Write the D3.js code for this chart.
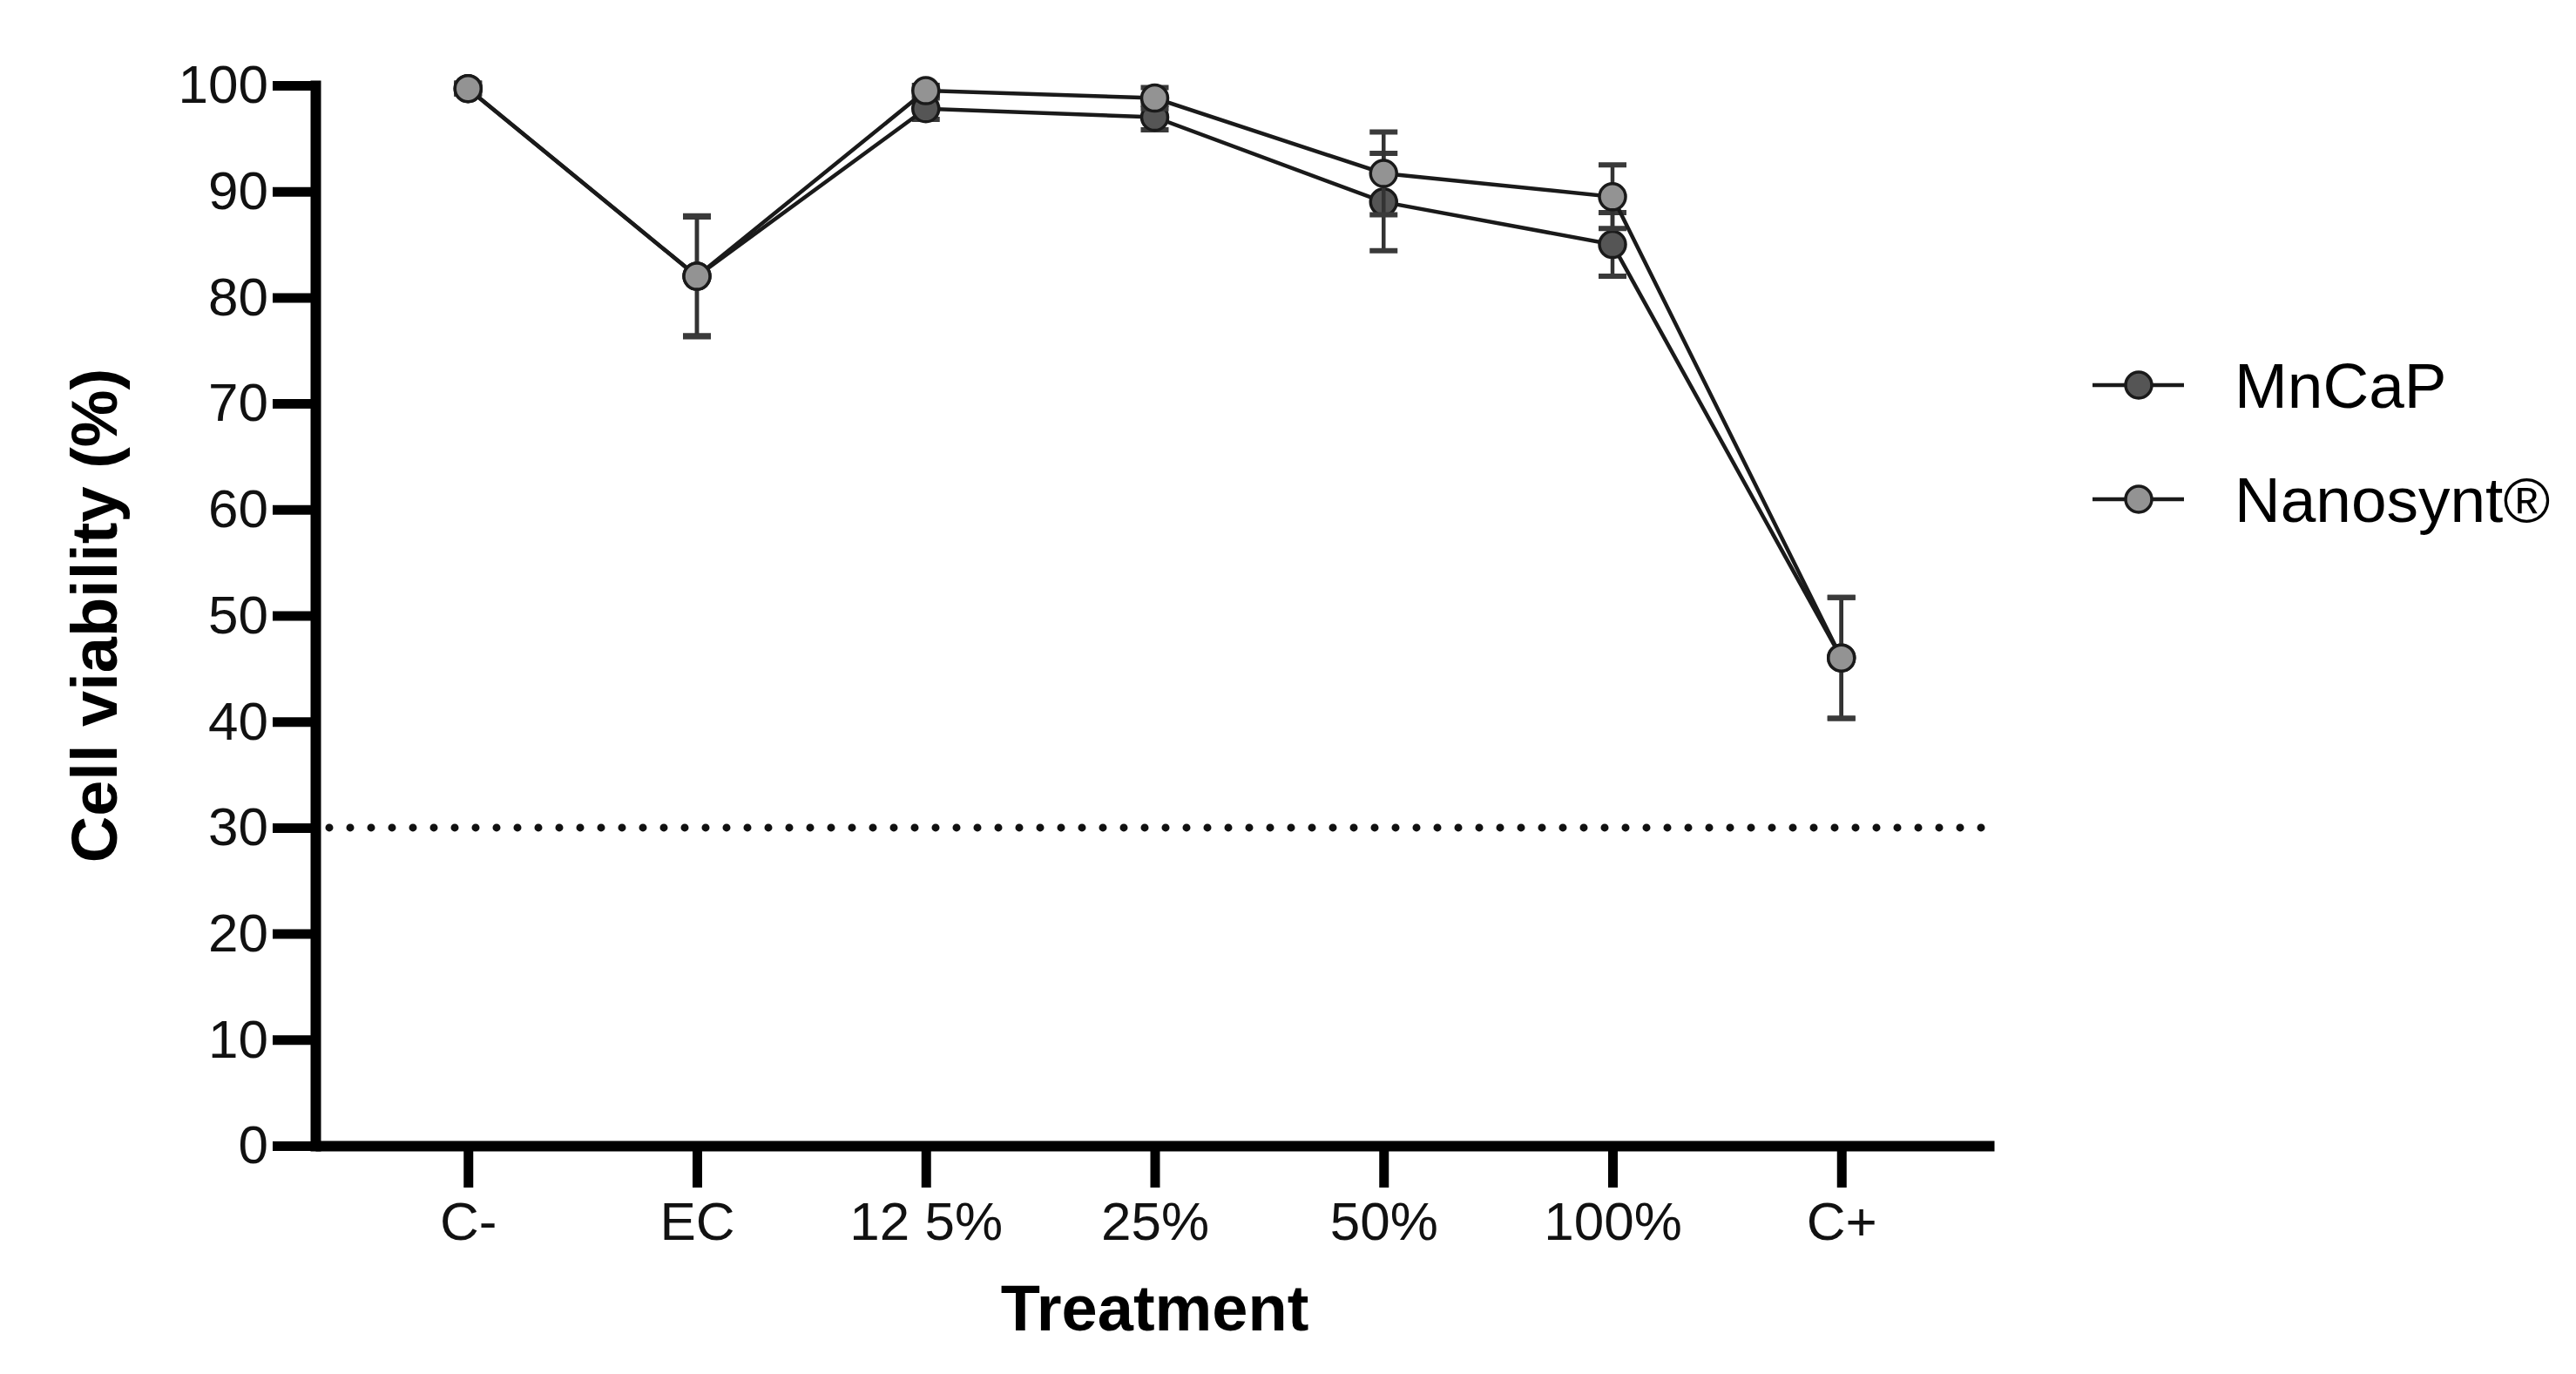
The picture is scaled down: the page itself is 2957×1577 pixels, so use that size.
<html>
<head>
<title>Cell viability</title>
<script src="https://d3js.org/d3.v7.min.js"></script>
<style>
body { margin: 0; background: #fff; font-family: 'Liberation Sans', Arial, sans-serif; }
</style>
</head>
<body>
<div id="plot"></div>

<script>

var categories = ["C-", "EC", "12 5%", "25%", "50%", "100%", "C+"];
var mncapMean = [99.7, 82.0, 97.8, 97.0, 89.0, 85.0, 46.0];
var mncapSd   = [0.5, 5.6, 1.0, 1.2, 4.6, 3.0, 5.7];
var nanoMean  = [99.7, 82.0, 99.5, 98.8, 91.7, 89.5, 46.0];
var nanoSd    = [0.5, 5.7, 0.5, 1.0, 3.9, 3.0, 5.7];
var yTicks = [0, 10, 20, 30, 40, 50, 60, 70, 80, 90, 100];
var threshold = 30;

var series = [
	{ name: "MnCaP", mean: mncapMean, sd: mncapSd, fill: "#555555" },
	{ name: "Nanosynt\u00AE", mean: nanoMean, sd: nanoSd, fill: "#939393" }
];

var width = 2957, height = 1577;
// note: "top" is taken by window.top, so use plot* names
var plotLeft = 362, plotRight = 2289, plotTop = 98, plotBottom = 1315;

var svg = d3.select("#plot").append("svg").attr("width", width).attr("height", height);

var xScale = d3.scalePoint().domain(categories).range([plotLeft, plotRight]).padding(0.667);
var yScale = d3.scaleLinear().domain([0, 100]).range([plotBottom, plotTop]);

// dotted 30% line
svg.append("line")
.attr("x1", plotLeft + 16).attr("x2", plotRight - 6)
.attr("y1", yScale(threshold)).attr("y2", yScale(threshold))
.style("stroke", "#111").style("stroke-width", 9)
.style("stroke-linecap", "round").style("stroke-dasharray", "0,24");

// axes
var yAxis = svg.append("g").attr("transform", "translate(" + plotLeft + ",0)")
.call(d3.axisLeft(yScale).tickValues(yTicks).tickSize(49).tickSizeOuter(0).tickPadding(5));
yAxis.select(".domain").style("stroke-width", 12).style("stroke-linecap", "square");
yAxis.selectAll(".tick line").style("stroke-width", 11);
yAxis.selectAll(".tick text").style("font-size", "62px").style("font-family", "Liberation Sans, Arial").style("fill", "#111");

var xAxis = svg.append("g").attr("transform", "translate(0," + plotBottom + ")")
.call(d3.axisBottom(xScale).tickSize(48).tickSizeOuter(0).tickPadding(16));
xAxis.select(".domain").style("stroke-width", 12);
xAxis.selectAll(".tick line").style("stroke-width", 11);
xAxis.selectAll(".tick text").style("font-size", "62px").style("font-family", "Liberation Sans, Arial").style("fill", "#111");

// axis titles
svg.append("text")
.attr("x", (plotLeft + plotRight) / 2).attr("y", 1527)
.attr("text-anchor", "middle")
.style("font-size", "74px").style("font-weight", "bold")
.text("Treatment");

svg.append("text")
.attr("transform", "translate(134," + (plotTop + plotBottom) / 2 + ") rotate(-90)")
.attr("text-anchor", "middle")
.style("font-size", "74px").style("font-weight", "bold")
.text("Cell viability (%)");

var line = d3.line()
.x(function(d, i) { return xScale(categories[i]); })
.y(function(d) { return yScale(d); });

series.forEach(function(s) {
	var g = svg.append("g");
	var pts = s.mean.map(function(m, i) { return { cat: categories[i], m: m, sd: s.sd[i] }; });

	// error bars
	g.selectAll(".err").data(pts).enter().append("line")
	.attr("x1", function(d) { return xScale(d.cat); })
	.attr("x2", function(d) { return xScale(d.cat); })
	.attr("y1", function(d) { return yScale(d.m + d.sd); })
	.attr("y2", function(d) { return yScale(d.m - d.sd); })
	.style("stroke", "#333").style("stroke-width", 4.5);

	[1, -1].forEach(function(sign) {
		g.selectAll(".cap" + sign).data(pts).enter().append("line")
		.attr("x1", function(d) { return xScale(d.cat) - 16; })
		.attr("x2", function(d) { return xScale(d.cat) + 16; })
		.attr("y1", function(d) { return yScale(d.m + sign * d.sd); })
		.attr("y2", function(d) { return yScale(d.m + sign * d.sd); })
		.style("stroke", "#3a3a3a").style("stroke-width", 6);
	});

	g.append("path").datum(s.mean)
	.attr("d", line)
	.style("fill", "none").style("stroke", "#1a1a1a").style("stroke-width", 4.5);

	g.selectAll("circle").data(pts).enter().append("circle")
	.attr("cx", function(d) { return xScale(d.cat); })
	.attr("cy", function(d) { return yScale(d.m); })
	.attr("r", 15)
	.style("fill", s.fill).style("stroke", "#1a1a1a").style("stroke-width", 3.5);
});

// legend
var legend = svg.selectAll(".legend").data(series).enter().append("g")
.attr("class", "legend")
.attr("transform", function(d, i) { return "translate(2455," + (442 + i * 131) + ")"; });

legend.append("line")
.attr("x1", -53).attr("x2", 52)
.style("stroke", "#1a1a1a").style("stroke-width", 4.5);

legend.append("circle")
.attr("r", 15)
.style("fill", function(d) { return d.fill; })
.style("stroke", "#1a1a1a").style("stroke-width", 3.5);

legend.append("text")
.attr("x", 110).attr("y", 26)
.style("font-size", "73px")
.text(function(d) { return d.name; });

</script>
</body>
</html>
